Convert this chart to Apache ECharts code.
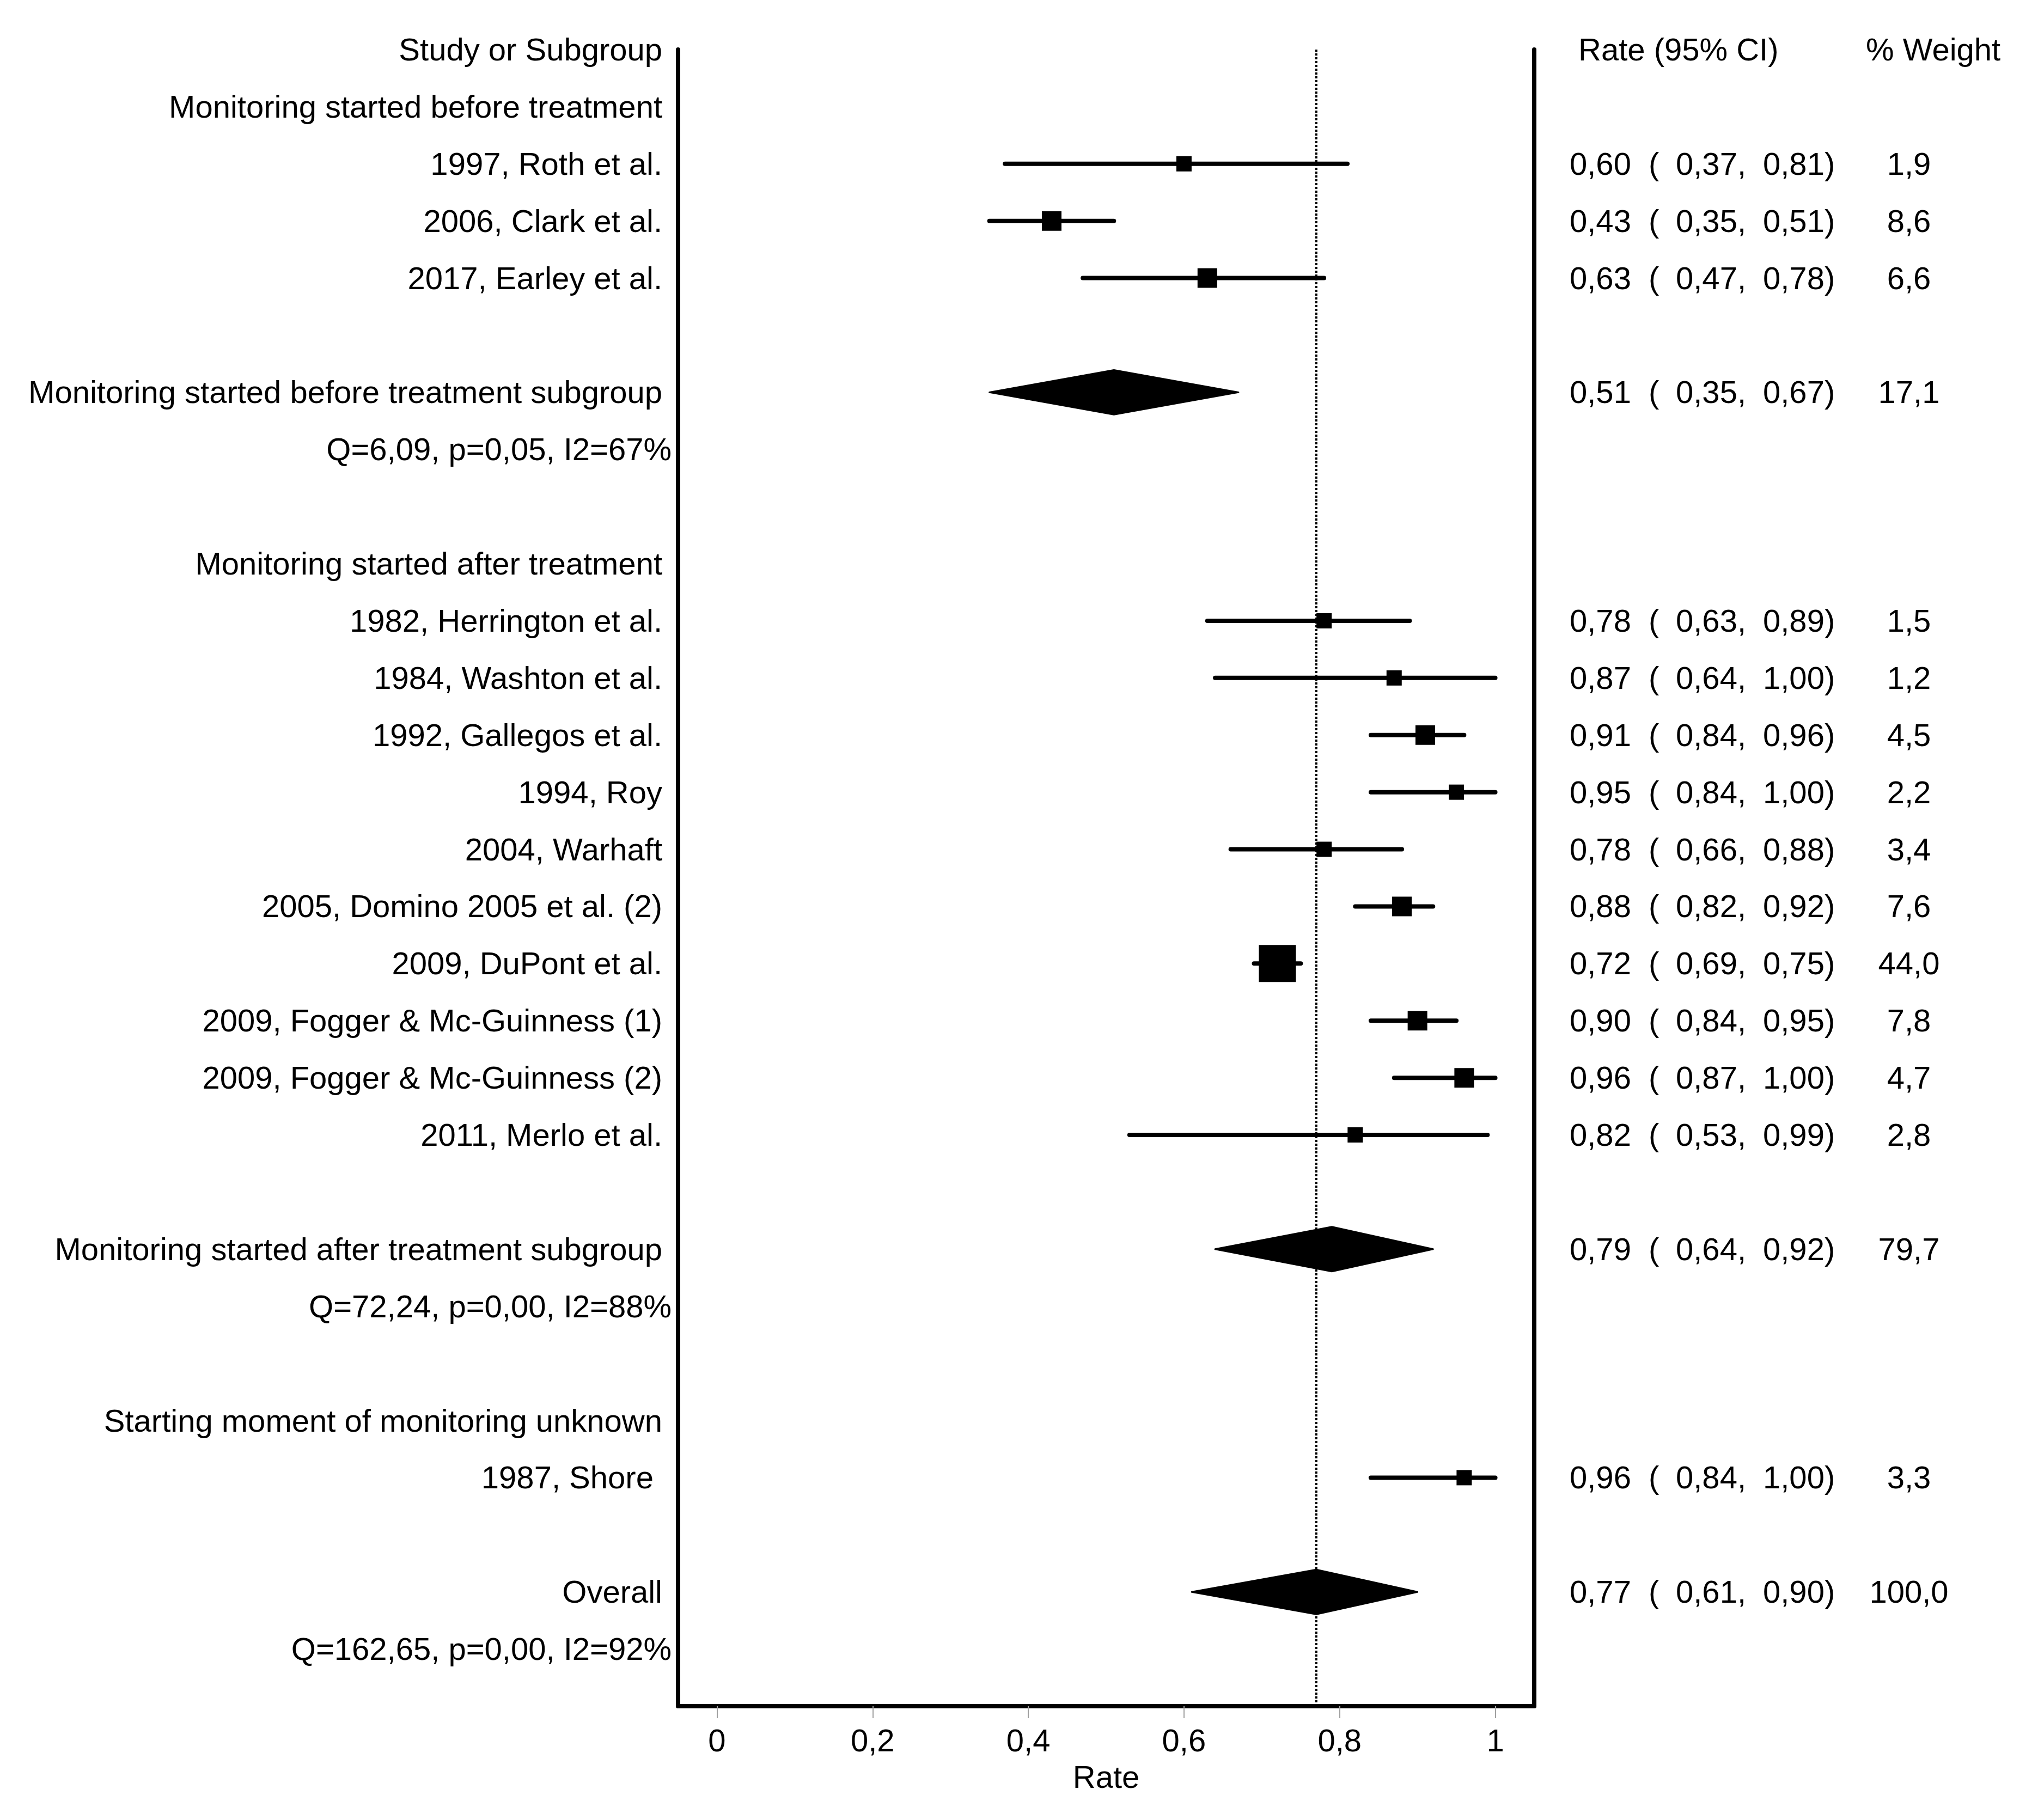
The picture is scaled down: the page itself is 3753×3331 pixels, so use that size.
<!DOCTYPE html>
<html>
<head>
<meta charset="utf-8">
<script src="https://cdn.jsdelivr.net/npm/echarts@6/dist/echarts.min.js"></script>
<style>html,body{margin:0;padding:0;background:#fff}#c{width:3753px;height:3331px}</style>
</head>
<body>
<div id="c"></div>
<script>
// ---------- data ----------
const groupNames = [
  'Monitoring started before treatment',
  'Monitoring started after treatment',
  'Starting moment of monitoring unknown'
];
const studyNames = [
  '1997, Roth et al.', '2006, Clark et al.', '2017, Earley et al.',
  '1982, Herrington et al.', '1984, Washton et al.', '1992, Gallegos et al.',
  '1994, Roy', '2004, Warhaft', '2005, Domino 2005 et al. (2)', '2009, DuPont et al.',
  '2009, Fogger & Mc-Guinness (1)', '2009, Fogger & Mc-Guinness (2)', '2011, Merlo et al.',
  '1987, Shore '
];
const studyGroup  = [0, 0, 0, 1, 1, 1, 1, 1, 1, 1, 1, 1, 1, 2];
const studyRate   = [0.60, 0.43, 0.63, 0.78, 0.87, 0.91, 0.95, 0.78, 0.88, 0.72, 0.90, 0.96, 0.82, 0.96];
const studyLow    = [0.37, 0.35, 0.47, 0.63, 0.64, 0.84, 0.84, 0.66, 0.82, 0.69, 0.84, 0.87, 0.53, 0.84];
const studyHigh   = [0.81, 0.51, 0.78, 0.89, 1.00, 0.96, 1.00, 0.88, 0.92, 0.75, 0.95, 1.00, 0.99, 1.00];
const studyWeight = [1.9, 8.6, 6.6, 1.5, 1.2, 4.5, 2.2, 3.4, 7.6, 44.0, 7.8, 4.7, 2.8, 3.3];

const subgroupNames  = ['Monitoring started before treatment subgroup', 'Monitoring started after treatment subgroup', null];
const subgroupRate   = [0.51, 0.79, null];
const subgroupLow    = [0.35, 0.64, null];
const subgroupHigh   = [0.67, 0.92, null];
const subgroupWeight = [17.1, 79.7, null];
const subgroupStats  = ['Q=6,09, p=0,05, I2=67%', 'Q=72,24, p=0,00, I2=88%', null];

const overallName = 'Overall';
const overallRate = 0.77, overallLow = 0.61, overallHigh = 0.90, overallWeight = 100.0;
const overallStats = 'Q=162,65, p=0,00, I2=92%';

const headerStudy = 'Study or Subgroup';
const headerRate = 'Rate (95% CI)';
const headerWeight = '% Weight';
const xTicks = [0, 0.2, 0.4, 0.6, 0.8, 1];
const xName = 'Rate';

// ---------- build rows ----------
const fmt2 = v => v.toFixed(2).replace('.', ',');
const fmt1 = v => v.toFixed(1).replace('.', ',');
const leftLabels = [], statLabels = [], estLabels = [], openLabels = [], lowLabels = [], highLabels = [], weightLabels = [];
const studyData = [], diamondData = [];
function addNumbers(row, r, lo, hi, w) {
  estLabels.push([row, fmt2(r)]);
  openLabels.push([row, '(']);
  lowLabels.push([row, fmt2(lo) + ',']);
  highLabels.push([row, fmt2(hi) + ')']);
  weightLabels.push([row, fmt1(w)]);
}
let row = 0;
leftLabels.push([row, headerStudy]);
row = 1;
groupNames.forEach((g, gi) => {
  leftLabels.push([row, g]); row++;
  studyNames.forEach((n, i) => {
    if (studyGroup[i] !== gi) return;
    leftLabels.push([row, n]);
    studyData.push([studyRate[i], row, studyLow[i], studyHigh[i], studyWeight[i]]);
    addNumbers(row, studyRate[i], studyLow[i], studyHigh[i], studyWeight[i]);
    row++;
  });
  row++;
  if (subgroupNames[gi]) {
    leftLabels.push([row, subgroupNames[gi]]);
    diamondData.push([subgroupRate[gi], row, subgroupLow[gi], subgroupHigh[gi]]);
    addNumbers(row, subgroupRate[gi], subgroupLow[gi], subgroupHigh[gi], subgroupWeight[gi]);
    row++;
    statLabels.push([row, subgroupStats[gi]]); row++;
    row++;
  }
});
leftLabels.push([row, overallName]);
diamondData.push([overallRate, row, overallLow, overallHigh]);
addNumbers(row, overallRate, overallLow, overallHigh, overallWeight);
row++;
statLabels.push([row, overallStats]);
const yMax = row + 1;

// ---------- chart ----------
const FONT = '"Liberation Sans", Arial, Helvetica, sans-serif';
const FS = 58;
const TEXT_DY = 4;
const chart = echarts.init(document.getElementById('c'), null, {renderer: 'canvas', width: 3753, height: 3331});

function textSeries(items, x, align) {
  return {
    type: 'custom', coordinateSystem: 'cartesian2d', silent: true, z: 5,
    data: items.map(it => [0, it[0]]),
    renderItem: (params, api) => {
      const y = api.coord([0, api.value(1)])[1] + TEXT_DY;
      return {
        type: 'text', x: x, y: y,
        style: {
          text: items[params.dataIndex][1], fill: '#000', fontSize: FS, fontFamily: FONT,
          align: align, textAlign: align, verticalAlign: 'middle', textVerticalAlign: 'middle'
        }
      };
    }
  };
}
const sizeFor = w => (w >= 20 ? 68 : (w >= 4 ? 36 : 28));

const option = {
  animation: false,
  backgroundColor: '#fff',
  grid: {left: 1245, right: 936, top: 91, bottom: 198, containLabel: false},
  xAxis: {
    type: 'value', min: -0.05, max: 1.05, position: 'bottom',
    axisLine: {show: true, onZero: false, lineStyle: {color: '#000', width: 8}},
    axisTick: {show: true, customValues: xTicks, length: 22, lineStyle: {color: '#a0a0a0', width: 2}},
    axisLabel: {customValues: xTicks, formatter: v => String(v).replace('.', ','), fontSize: FS, fontFamily: FONT, color: '#000', margin: 38},
    splitLine: {show: false},
    name: xName, nameLocation: 'middle', nameGap: 134,
    nameTextStyle: {fontSize: FS, fontFamily: FONT, color: '#000', verticalAlign: 'middle'}
  },
  yAxis: [
    {type: 'value', inverse: true, min: 0, max: yMax, position: 'left',
     axisLine: {show: true, onZero: false, lineStyle: {color: '#000', width: 8}},
     axisTick: {show: false}, axisLabel: {show: false}, splitLine: {show: false}},
    {type: 'value', inverse: true, min: 0, max: yMax, position: 'right',
     axisLine: {show: true, onZero: false, lineStyle: {color: '#000', width: 8}},
     axisTick: {show: false}, axisLabel: {show: false}, splitLine: {show: false}}
  ],
  series: [
    { // dotted reference line at overall rate
      type: 'custom', silent: true, z: 1,
      data: [[overallRate, 0]],
      renderItem: (params, api) => {
        const t = api.coord([api.value(0), 0]);
        const b = api.coord([api.value(0), yMax]);
        return {type: 'line', shape: {x1: t[0], y1: t[1], x2: b[0], y2: b[1]},
                style: {stroke: '#000', lineWidth: 4, lineDash: [4, 3]}};
      }
    },
    { // studies
      type: 'custom', silent: true, z: 3,
      data: studyData,
      renderItem: (params, api) => {
        const c = api.coord([api.value(0), api.value(1)]);
        const a = api.coord([api.value(2), api.value(1)]);
        const b = api.coord([api.value(3), api.value(1)]);
        const s = sizeFor(api.value(4));
        return {type: 'group', children: [
          {type: 'line', shape: {x1: a[0], y1: a[1], x2: b[0], y2: b[1]},
           style: {stroke: '#000', lineWidth: 8, lineCap: 'round'}},
          {type: 'rect', shape: {x: c[0] - s / 2, y: c[1] - s / 2, width: s, height: s},
           style: {fill: '#000'}}
        ]};
      }
    },
    { // pooled diamonds
      type: 'custom', silent: true, z: 3,
      data: diamondData,
      renderItem: (params, api) => {
        const c = api.coord([api.value(0), api.value(1)]);
        const a = api.coord([api.value(2), api.value(1)]);
        const b = api.coord([api.value(3), api.value(1)]);
        const h = 41;
        return {type: 'polygon', shape: {points: [[a[0], a[1]], [c[0], c[1] - h], [b[0], b[1]], [c[0], c[1] + h]]},
                style: {fill: '#000', stroke: '#000', lineWidth: 3, lineJoin: 'round'}};
      }
    },
    textSeries(leftLabels, 1216, 'right'),
    textSeries(statLabels, 1233, 'right'),
    textSeries([[0, headerRate]], 2898, 'left'),
    textSeries([[0, headerWeight]], 3426, 'left'),
    textSeries(estLabels, 2882, 'left'),
    textSeries(openLabels, 3027, 'left'),
    textSeries(lowLabels, 3077, 'left'),
    textSeries(highLabels, 3237, 'left'),
    textSeries(weightLabels, 3505, 'center')
  ]
};
chart.setOption(option);
</script>
</body>
</html>
